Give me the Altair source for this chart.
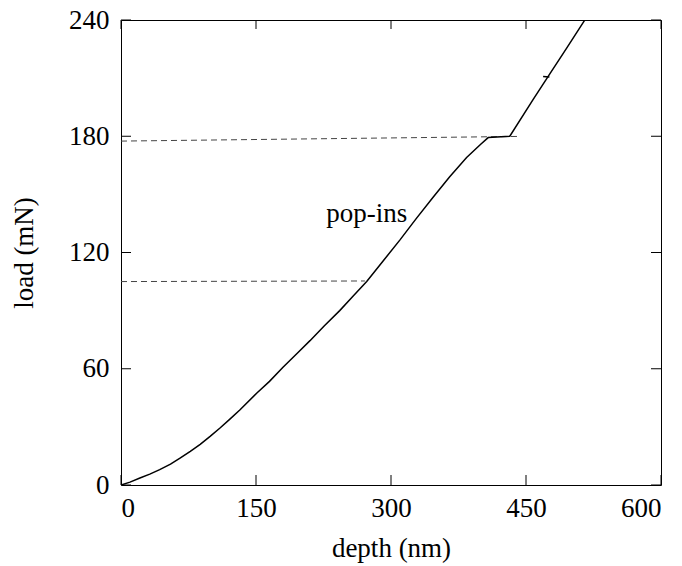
import altair as alt
import pandas as pd

# loading curve (depth nm, load mN)
depth = [0, 10, 21, 32, 43, 55, 66, 77, 88, 99, 110, 121, 132, 151, 165, 180, 195, 210, 226, 243, 258, 273, 291, 310, 328, 347, 365, 384, 400, 408, 432, 458, 477, 495, 514, 518]
load = [0, 1.5, 3.6, 5.6, 7.9, 10.8, 14.0, 17.4, 21.0, 25.1, 29.4, 34.0, 38.7, 47.5, 53.5, 60.8, 67.6, 74.5, 82.2, 90.0, 97.5, 105.0, 115.5, 126.5, 137.5, 148.6, 159.0, 169.0, 176.0, 179.3, 180.0, 199.0, 212.6, 225.4, 239.0, 242.0]

# small glitch mark on the steep part
glitch_depth = [469, 476]
glitch_load = [210.9, 210.6]

# dashed pop-in markers
pop_group = ["low", "low", "high", "high"]
pop_depth = [0, 271, 0, 440]
pop_load = [105.0, 105.3, 177.5, 179.9]

x_ticks = [0, 150, 300, 450, 600]
y_ticks = [0, 60, 120, 180, 240]

annot_text = ["pop-ins"]
annot_depth = [273]
annot_load = [140]

W, H = 540, 465
FONT = "Liberation Serif"
FS = 27

curve_df = pd.DataFrame({"depth": depth, "load": load})
glitch_df = pd.DataFrame({"depth": glitch_depth, "load": glitch_load})
pop_df = pd.DataFrame({"g": pop_group, "depth": pop_depth, "load": pop_load})
xt_df = pd.DataFrame({"v": x_ticks})
yt_df = pd.DataFrame({"v": y_ticks})
ann_df = pd.DataFrame({"t": annot_text, "depth": annot_depth, "load": annot_load})

xscale = alt.Scale(domain=[0, 600], nice=False, zero=False)
yscale = alt.Scale(domain=[0, 240], nice=False, zero=False)

xaxis = alt.Axis(values=x_ticks, title="depth (nm)", labelPadding=10, titlePadding=14)
yaxis = alt.Axis(values=y_ticks, title="load (mN)", labelPadding=12, titlePadding=30)

curve = alt.Chart(curve_df).mark_line(color="black", strokeWidth=1.5, clip=True).encode(
    x=alt.X("depth:Q", scale=xscale, axis=xaxis),
    y=alt.Y("load:Q", scale=yscale, axis=yaxis),
)

glitch = alt.Chart(glitch_df).mark_line(color="black", strokeWidth=1.5).encode(
    x=alt.X("depth:Q", scale=xscale),
    y=alt.Y("load:Q", scale=yscale),
)

pops = alt.Chart(pop_df).mark_line(color="#444", strokeWidth=1, strokeDash=[6, 4]).encode(
    x=alt.X("depth:Q", scale=xscale),
    y=alt.Y("load:Q", scale=yscale),
    detail="g:N",
)

tick_style = dict(color="black", strokeWidth=1)
xt_bottom = alt.Chart(xt_df).mark_rule(**tick_style).encode(
    x=alt.X("v:Q", scale=xscale), y=alt.value(H), y2=alt.value(H - 10)
)
xt_top = alt.Chart(xt_df).mark_rule(**tick_style).encode(
    x=alt.X("v:Q", scale=xscale), y=alt.value(0), y2=alt.value(9)
)
yt_left = alt.Chart(yt_df).mark_rule(**tick_style).encode(
    y=alt.Y("v:Q", scale=yscale), x=alt.value(0), x2=alt.value(10)
)
yt_right = alt.Chart(yt_df).mark_rule(**tick_style).encode(
    y=alt.Y("v:Q", scale=yscale), x=alt.value(W - 10), x2=alt.value(W)
)

ann = alt.Chart(ann_df).mark_text(font=FONT, fontSize=FS, color="black", align="center", baseline="middle").encode(
    x=alt.X("depth:Q", scale=xscale), y=alt.Y("load:Q", scale=yscale), text="t:N"
)

chart = alt.layer(pops, curve, glitch, xt_bottom, xt_top, yt_left, yt_right, ann).properties(
    width=W, height=H,
    autosize=alt.AutoSizeParams(type="none"),
    padding={"left": 121, "top": 20, "right": 21, "bottom": 81},
).configure_view(
    stroke="black", strokeWidth=1
).configure_axis(
    labelFont=FONT, labelFontSize=FS, labelColor="black",
    titleFont=FONT, titleFontSize=FS, titleFontWeight="normal", titleColor="black",
    ticks=False, domain=False, grid=False,
)

chart.save("out.html", embed_options={"renderer": "svg", "actions": False})
